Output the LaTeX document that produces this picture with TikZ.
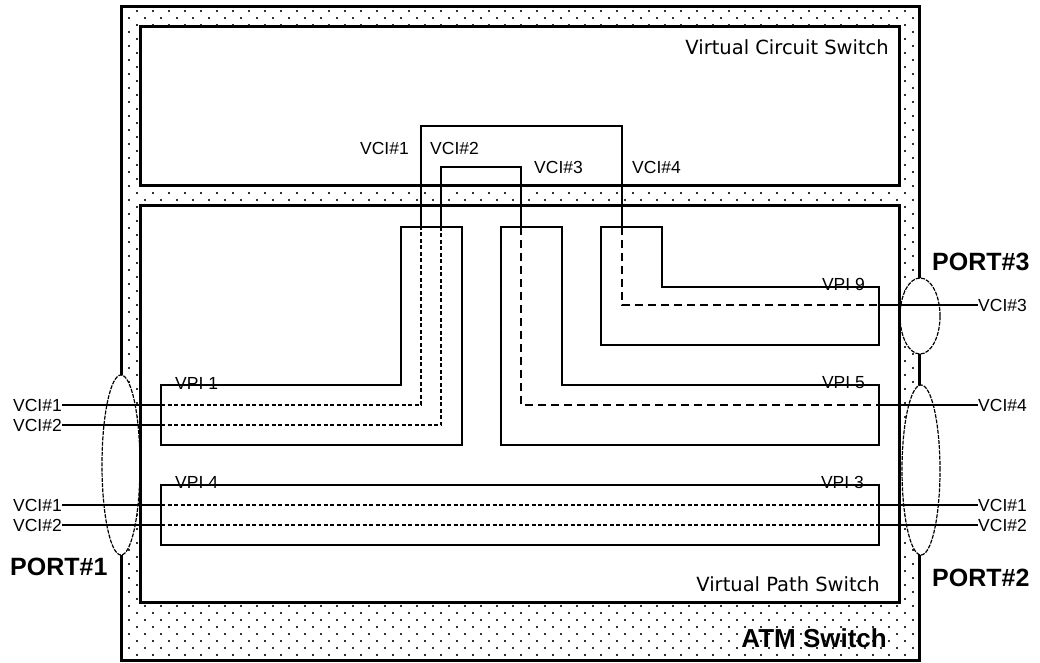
\documentclass[tikz,border=0pt]{standalone}
\usepackage{fontspec}
\setmainfont{Liberation Sans}
\newfontfamily\dvsfont{DejaVu Sans}
\usetikzlibrary{patterns}
\pgfdeclarepatternformonly{atmdots}{\pgfqpoint{-1pt}{-1pt}}{\pgfqpoint{10pt}{9pt}}{\pgfqpoint{16pt}{14pt}}{%
  \pgfpathrectangle{\pgfqpoint{0.2pt}{0.2pt}}{\pgfqpoint{1.6pt}{1.6pt}}%
  \pgfpathrectangle{\pgfqpoint{8.2pt}{7.2pt}}{\pgfqpoint{1.6pt}{1.6pt}}%
  \pgfusepath{fill}}
\begin{document}
\begin{tikzpicture}[x=1pt,y=-1pt,
  bigbox/.style={line width=3pt},
  wire/.style={line width=1.4pt},
  vcdash/.style={line width=1.4pt, dash pattern=on 4pt off 2.5pt},
  vpdash/.style={line width=1.4pt, dash pattern=on 8pt off 5pt},
  portell/.style={fill=white, line width=1.2pt, dash pattern=on 4pt off 1.2pt},
  lab/.style={inner sep=0pt, font=\fontsize{17.5}{20}\selectfont},
  title/.style={inner sep=0pt, font=\dvsfont\fontsize{19.5}{22}\selectfont},
  portlab/.style={inner sep=0pt, font=\bfseries\fontsize{25}{28}\selectfont}
]
\useasboundingbox (0,0) rectangle (1040,663);
\fill[white] (0,0) rectangle (1040,663);

% ATM switch body
\fill[pattern=atmdots, pattern color=black!80] (121,7) rectangle (919,660);
\draw[bigbox] (121,7) rectangle (919,660);
\fill[white] (140,27) rectangle (899,185);
\fill[white] (140,205) rectangle (899,602);

% ports
\draw[portell] (121,465) ellipse [x radius=19pt, y radius=90pt];
\draw[portell] (920,316) ellipse [x radius=20pt, y radius=38pt];
\draw[portell] (921,470) ellipse [x radius=19pt, y radius=85pt];

% switches
\draw[bigbox] (140,27) rectangle (899,185);
\draw[bigbox] (140,205) rectangle (899,602);

% titles
\node[title, anchor=east] (vcs) at (889,47) {Virtual Circuit Switch};
\node[title, anchor=east] (vps) at (880,584) {Virtual Path Switch};
\node[portlab, anchor=east, font=\bfseries\fontsize{26}{28}\selectfont] (atm) at (887,638) {ATM Switch};
\node[portlab, anchor=west] (p1) at (10,567) {PORT\#1};
\node[portlab, anchor=west] (p2) at (932,578) {PORT\#2};
\node[portlab, anchor=west] (p3) at (932,262) {PORT\#3};

% virtual paths
\draw[wire] (161,385) -- (401,385) -- (401,227) -- (462,227) -- (462,445) -- (161,445) -- cycle;
\draw[wire] (161,485) rectangle (879,545);
\draw[wire] (501,227) -- (562,227) -- (562,385) -- (879,385) -- (879,445) -- (501,445) -- cycle;
\draw[wire] (601,227) -- (662,227) -- (662,287) -- (879,287) -- (879,345) -- (601,345) -- cycle;

\node[lab, anchor=west] (vpi1) at (175,383) {VPI 1};
\node[lab, anchor=west] (vpi4) at (175,482) {VPI 4};
\node[lab, anchor=east] (vpi9) at (865,284) {VPI 9};
\node[lab, anchor=east] (vpi5) at (865,383) {VPI 5};
\node[lab, anchor=east] (vpi3) at (864,482) {VPI 3};

% port labels for channels
\node[lab, anchor=east] (la1) at (62,405) {VCI\#1};
\node[lab, anchor=east] (la2) at (62,425) {VCI\#2};
\node[lab, anchor=east] (lb1) at (62,505) {VCI\#1};
\node[lab, anchor=east] (lb2) at (62,525) {VCI\#2};
\node[lab, anchor=west] (r3) at (978,305) {VCI\#3};
\node[lab, anchor=west] (r4) at (978,405) {VCI\#4};
\node[lab, anchor=west] (rb1) at (978,505) {VCI\#1};
\node[lab, anchor=west] (rb2) at (978,525) {VCI\#2};

% VC switch labels
\node[lab, anchor=east] (c1) at (409,148) {VCI\#1};
\node[lab, anchor=west] (c2) at (430,148) {VCI\#2};
\node[lab, anchor=west] (c3) at (534,167) {VCI\#3};
\node[lab, anchor=west] (c4) at (632,167) {VCI\#4};

% coordinates of the channel paths
\coordinate (a1in) at (161,405);
\coordinate (a1c) at (421,405);
\coordinate (a1top) at (421,227);
\coordinate (a1u) at (421,126);
\coordinate (d9u) at (622,126);
\coordinate (d9top) at (622,227);
\coordinate (d9c) at (622,305);
\coordinate (d9out) at (879,305);

\coordinate (a2in) at (161,425);
\coordinate (a2c) at (441,425);
\coordinate (a2top) at (441,227);
\coordinate (a2u) at (441,167);
\coordinate (d5u) at (521,167);
\coordinate (d5top) at (521,227);
\coordinate (d5c) at (521,405);
\coordinate (d5out) at (879,405);

\coordinate (b1in) at (161,505);
\coordinate (b1out) at (879,505);
\coordinate (b2in) at (161,525);
\coordinate (b2out) at (879,525);

% VCI#1 of port 1 -> VCI#3 of port 3
\draw[wire] (la1.east) -- (a1in);
\draw[vcdash] (a1in) -- (a1c) -- (a1top);
\draw[wire] (a1top) -- (a1u) -- (d9u) -- (d9top);
\draw[vpdash] (d9top) -- (d9c) -- (d9out);
\draw[wire] (d9out) -- (r3.west);

% VCI#2 of port 1 -> VCI#4 of port 2
\draw[wire] (la2.east) -- (a2in);
\draw[vcdash] (a2in) -- (a2c) -- (a2top);
\draw[wire] (a2top) -- (a2u) -- (d5u) -- (d5top);
\draw[vpdash] (d5top) -- (d5c) -- (d5out);
\draw[wire] (d5out) -- (r4.west);

% VPI 4 <-> VPI 3
\draw[wire] (lb1.east) -- (b1in);
\draw[vcdash] (b1in) -- (b1out);
\draw[wire] (b1out) -- (rb1.west);
\draw[wire] (lb2.east) -- (b2in);
\draw[vcdash] (b2in) -- (b2out);
\draw[wire] (b2out) -- (rb2.west);
\end{tikzpicture}
\end{document}
